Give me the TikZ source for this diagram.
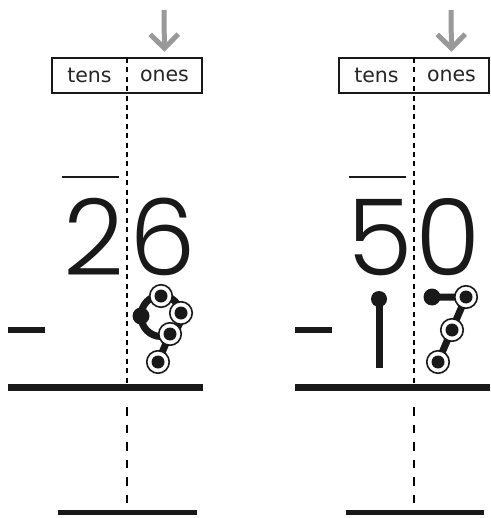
\documentclass[tikz,border=0pt]{standalone}
\usepackage{fontspec}
\setmainfont{DejaVu Sans}
\newfontfamily\digitfont{Poppins Light}
\usetikzlibrary{arrows.meta,positioning}

\begin{document}
\begin{tikzpicture}[
    x=1pt, y=-1pt,
    colname/.style={
        font=\fontsize{20.5}{24}\selectfont,
        text=black!85,
        inner sep=0pt,
        minimum width=75pt,
        minimum height=35pt
    },
    digit/.style={font=\digitfont\fontsize{106}{110}\selectfont, text=black!90, inner sep=0pt, anchor=base},
    guide/.style={draw=black!40, line width=5pt, -{Straight Barb[length=14pt,width=28pt]}, shorten >=6pt},
    divider/.style={dash pattern=on 5pt off 4.4pt, line width=1.3pt},
    lowdivider/.style={dash pattern=on 8.5pt off 9pt, line width=1.3pt},
    bar/.style={line width=#1, line cap=butt, draw=black!90},
    numstroke/.style={line width=7pt, draw=black!90},
    startdot/.style={circle, fill=black!90, minimum size=17pt, inner sep=0pt},
    ring/.style={
        circle,
        draw=black!90,
        line width=1.6pt,
        fill=white,
        minimum size=22.5pt,
        inner sep=0pt,
        path picture={\fill[black!90] (path picture bounding box.center) circle (6.5pt);}
    }
]

% Canvas
\fill[white] (0,0) rectangle (490,518);
\useasboundingbox (0,0) rectangle (490,518);

% Left panel: 26 - 9
\draw[line width=2.2pt, draw=black!90] (52,58) rectangle (202,93);
\node[colname] (tensL) at (89.5,75.5) {tens};
\node[colname] (onesL) at (164.5,75.5) {ones};
\coordinate (arrowL) at (164,10);
\draw[guide] (arrowL) -- (onesL.north);
\draw[divider] (127,58) -- (127,387);
\draw[lowdivider] (127,407) -- (127,505);

\draw[bar=2.5pt] (62,177) -- (119,177);
\node[digit] (tensdigitL) at (93.5,275) {2};
\node[digit] (onesdigitL) at (162.5,275) {6};

\draw[bar=6pt] (8,330) -- (45,330);
\draw[bar=7pt] (8,387) -- (203,387);
\draw[bar=5pt] (58,512.5) -- (197,512.5);

% Dot-to-dot nine
\coordinate (nineA) at (141,316);
\coordinate (nineB) at (161,296);
\coordinate (nineC) at (181,313);
\coordinate (nineD) at (170,334);
\coordinate (nineE) at (158,362);
\draw[numstroke] (161,316) ellipse [x radius=20, y radius=20.5];
\draw[numstroke] (nineD) -- (nineE);
\node[startdot] (nineStart) at (nineA) {};
\node[ring] (nineRingB) at (nineB) {};
\node[ring] (nineRingC) at (nineC) {};
\node[ring] (nineRingD) at (nineD) {};
\node[ring] (nineRingE) at (nineE) {};

% Right panel: 50 - 17
\draw[line width=2.2pt, draw=black!90] (339,58) rectangle (489,93);
\node[colname] (tensR) at (376.5,75.5) {tens};
\node[colname] (onesR) at (451.5,75.5) {ones};
\coordinate (arrowR) at (451,10);
\draw[guide] (arrowR) -- (onesR.north);
\draw[divider] (414,58) -- (414,387);
\draw[lowdivider] (414,407) -- (414,505);

\draw[bar=2.5pt] (349,177) -- (406,177);
\node[digit] (tensdigitR) at (380,275) {5};
\node[digit] (onesdigitR) at (448.5,275) {0};

\draw[bar=6pt] (295,330) -- (332,330);
\draw[bar=7pt] (295,387) -- (490,387);
\draw[bar=5pt] (346,512.5) -- (484,512.5);

% Dot-to-dot one
\coordinate (oneA) at (379,299);
\coordinate (oneB) at (379,368);
\draw[numstroke] (oneA) -- (oneB);
\node[startdot, minimum size=16pt] (oneStart) at (oneA) {};

% Dot-to-dot seven
\coordinate (sevenA) at (432,297);
\coordinate (sevenB) at (466,297);
\coordinate (sevenC) at (452,330);
\coordinate (sevenD) at (438,362);
\draw[numstroke] (sevenA) -- (sevenB) -- (sevenD);
\node[startdot] (sevenStart) at (sevenA) {};
\node[ring] (sevenRingB) at (sevenB) {};
\node[ring] (sevenRingC) at (sevenC) {};
\node[ring] (sevenRingD) at (sevenD) {};

\end{tikzpicture}
\end{document}
